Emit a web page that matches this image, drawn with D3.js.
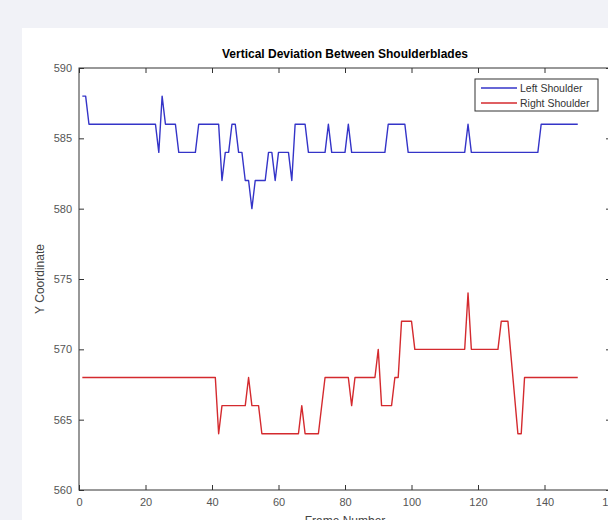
<!DOCTYPE html>
<html>
<head>
<meta charset="utf-8">
<script src="https://cdn.jsdelivr.net/npm/d3@7"></script>
<style>
  body { margin: 0; background: #f1f2f7; overflow: hidden; }
  svg { display: block; }
</style>
</head>
<body>
<script>
// frames where the line changes direction, with the value read at each
var leftFrames = [1, 2, 3, 23, 24, 25, 26, 29, 30, 35, 36, 42, 43, 44, 45, 46, 47, 48, 49, 50,
		  51, 52, 53, 56, 57, 58, 59, 60, 63, 64, 65, 68, 69, 74, 75, 76, 80, 81, 82, 92,
		  93, 98, 99, 116, 117, 118, 138, 139, 150];
var leftValues = [588, 588, 586, 586, 584, 588, 586, 586, 584, 584, 586, 586, 582, 584, 584, 586, 586, 584, 584, 582,
		  582, 580, 582, 582, 584, 584, 582, 584, 584, 582, 586, 586, 584, 584, 586, 584, 584, 586, 584, 584,
		  586, 586, 584, 584, 586, 584, 584, 586, 586];

var rightFrames = [1, 41, 42, 43, 50, 51, 52, 54, 55, 66, 67, 68, 72, 74, 81, 82, 83, 89, 90, 91,
		   94, 95, 96, 97, 100, 101, 116, 117, 118, 126, 127, 129, 132, 133, 134, 150];
var rightValues = [568, 568, 564, 566, 566, 568, 566, 566, 564, 564, 566, 564, 564, 568, 568, 566, 568, 568, 570, 566,
		   566, 568, 568, 572, 572, 570, 570, 574, 570, 570, 572, 572, 564, 564, 568, 568];

var xTicks = [0, 20, 40, 60, 80, 100, 120, 140, 160];
var yTicks = [560, 565, 570, 575, 580, 585, 590];

var seriesNames = ['Left Shoulder', 'Right Shoulder'];
var seriesColors = ['#3434c8', '#d42a2e'];

var W = 608, H = 520;
var axLeft = 79, axRight = 611, axTop = 68, axBottom = 490;

var svg = d3.select('body').append('svg')
    .attr('width', W)
    .attr('height', H);

// white figure panel
svg.append('rect')
    .attr('x', 22)
    .attr('y', 28)
    .attr('width', W - 22)
    .attr('height', H - 28)
    .attr('fill', '#fff');

var x = d3.scaleLinear().domain([0, 160]).range([axLeft, axRight]);
var y = d3.scaleLinear().domain([560, 590]).range([axBottom, axTop]);

function styleAxis(g) {
    g.select('.domain').remove();
    g.selectAll('line').attr('stroke', '#333');
    g.selectAll('text')
	.attr('fill', '#555')
	.style('font-family', 'Liberation Sans, Arial, sans-serif')
	.style('font-size', '11px');
}

svg.append('g')
    .attr('transform', 'translate(0,' + axBottom + ')')
    .call(d3.axisBottom(x).tickValues(xTicks).tickSizeInner(-5).tickSizeOuter(0).tickPadding(8))
    .call(styleAxis);

svg.append('g')
    .attr('transform', 'translate(0,' + axTop + ')')
    .call(d3.axisTop(x).tickValues(xTicks).tickSizeInner(-5).tickSizeOuter(0).tickFormat(''))
    .call(styleAxis);

svg.append('g')
    .attr('transform', 'translate(' + axLeft + ',0)')
    .call(d3.axisLeft(y).tickValues(yTicks).tickSizeInner(-5).tickSizeOuter(0).tickPadding(7))
    .call(styleAxis);

svg.append('g')
    .attr('transform', 'translate(' + axRight + ',0)')
    .call(d3.axisRight(y).tickValues(yTicks).tickSizeInner(-5).tickSizeOuter(0).tickFormat(''))
    .call(styleAxis);

// axes box
svg.append('rect')
    .attr('x', axLeft)
    .attr('y', axTop)
    .attr('width', axRight - axLeft)
    .attr('height', axBottom - axTop)
    .attr('fill', 'none')
    .attr('stroke', '#333')
    .attr('stroke-width', 1);

var line = d3.line()
    .x(function(d) { return x(d[0]); })
    .y(function(d) { return y(d[1]); });

var series = [
    d3.zip(leftFrames, leftValues),
    d3.zip(rightFrames, rightValues)
];

svg.selectAll('.series')
    .data(series)
    .enter().append('path')
    .attr('class', 'series')
    .attr('d', line)
    .attr('fill', 'none')
    .attr('stroke', function(d, i) { return seriesColors[i]; })
    .attr('stroke-width', 1.4)
    .attr('stroke-linejoin', 'round');

svg.append('text')
    .attr('x', (axLeft + axRight) / 2)
    .attr('y', 58)
    .attr('text-anchor', 'middle')
    .style('font-family', 'Liberation Sans, Arial, sans-serif')
    .style('font-size', '12px')
    .style('font-weight', 'bold')
    .text('Vertical Deviation Between Shoulderblades');

svg.append('text')
    .attr('transform', 'translate(44,' + ((axTop + axBottom) / 2) + ') rotate(-90)')
    .attr('text-anchor', 'middle')
    .attr('fill', '#444')
    .style('font-family', 'Liberation Sans, Arial, sans-serif')
    .style('font-size', '12px')
    .text('Y Coordinate');

svg.append('text')
    .attr('x', (axLeft + axRight) / 2)
    .attr('y', 525)
    .attr('text-anchor', 'middle')
    .attr('fill', '#444')
    .style('font-family', 'Liberation Sans, Arial, sans-serif')
    .style('font-size', '12px')
    .text('Frame Number');

// legend
var legend = svg.append('g').attr('transform', 'translate(475,79)');
legend.append('rect')
    .attr('width', 123)
    .attr('height', 32)
    .attr('fill', '#fff')
    .attr('stroke', '#333');

var items = legend.selectAll('.item')
    .data(seriesNames)
    .enter().append('g')
    .attr('class', 'item')
    .attr('transform', function(d, i) { return 'translate(0,' + (9 + i * 15) + ')'; });

items.append('line')
    .attr('x1', 6)
    .attr('x2', 42)
    .attr('stroke', function(d, i) { return seriesColors[i]; })
    .attr('stroke-width', 1.4);

items.append('text')
    .attr('x', 45)
    .attr('dy', '0.35em')
    .attr('fill', '#333')
    .style('font-family', 'Liberation Sans, Arial, sans-serif')
    .style('font-size', '10.5px')
    .text(function(d) { return d; });
</script>
</body>
</html>
